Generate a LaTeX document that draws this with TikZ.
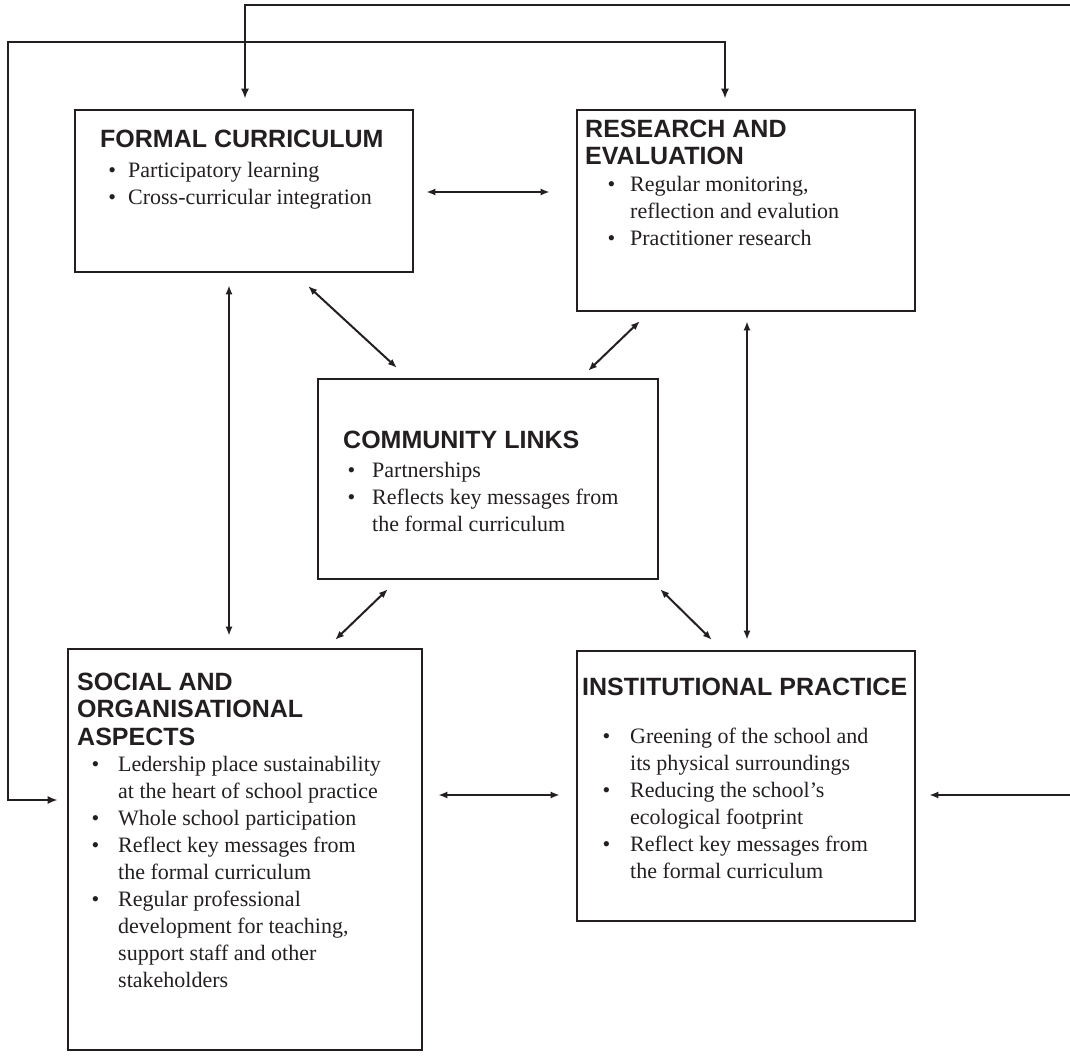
\documentclass[tikz,border=0pt]{standalone}
\usepackage{fontspec}
\setmainfont{Liberation Serif}
\newfontfamily\headfont{Liberation Sans}
\usetikzlibrary{arrows.meta}
\definecolor{ink}{HTML}{231F20}
% bullet hung to the left of the item text
\newcommand{\itembullet}[1]{\llap{\textbullet\hspace{#1pt}}}
\begin{document}
\begin{tikzpicture}[x=1pt,y=-1pt,
  box/.style={draw=ink, line width=2.6pt, rectangle, inner sep=0pt},
  head/.style={anchor=base west, inner sep=0pt, text=ink, font=\headfont\bfseries\fontsize{25}{27}\selectfont},
  body/.style={anchor=base west, inner sep=0pt, text=ink, font=\fontsize{22}{27}\selectfont},
  longlink/.style={draw=ink, line width=2.6pt},
  headtip/.style={-{Latex[length=10pt,width=8pt]}},
  bothtips/.style={{Latex[length=10pt,width=8pt]}-{Latex[length=10pt,width=8pt]}},
  dbl/.style={draw=ink, line width=2pt, {Latex[length=9pt,width=7pt]}-{Latex[length=9pt,width=7pt]}},
]
\useasboundingbox (0,0) rectangle (1070,1056);

% ---- boxes ----
\node[box, minimum width=338pt, minimum height=162pt] (fc) at (244,191) {};
\node[box, minimum width=338pt, minimum height=201pt] (re) at (746,210.5) {};
\node[box, minimum width=340pt, minimum height=200pt] (cl) at (488,479) {};
\node[box, minimum width=354pt, minimum height=401pt] (so) at (245,849.5) {};
\node[box, minimum width=338pt, minimum height=270pt] (ip) at (746,786) {};

% ---- formal curriculum ----
\node[head] (fc-h) at (100,148) {FORMAL CURRICULUM};
\node[body] (fc-1) at (128,178) {\itembullet{12}Participatory learning};
\node[body] (fc-2) at (128,205) {\itembullet{12}Cross-curricular integration};

% ---- research and evaluation ----
\node[head] (re-h1) at (585,138) {RESEARCH AND};
\node[head] (re-h2) at (585,165) {EVALUATION};
\node[body] (re-1) at (630,192) {\itembullet{15}Regular monitoring,};
\node[body] (re-2) at (630,219) {reflection and evalution};
\node[body] (re-3) at (630,246) {\itembullet{15}Practitioner research};

% ---- community links ----
\node[head] (cl-h) at (343,448) {COMMUNITY LINKS};
\node[body] (cl-1) at (372,477) {\itembullet{17}Partnerships};
\node[body] (cl-2) at (372,504) {\itembullet{17}Reflects key messages from};
\node[body] (cl-3) at (372,531) {the formal curriculum};

% ---- social and organisational aspects ----
\node[head] (so-h1) at (77,690) {SOCIAL AND};
\node[head] (so-h2) at (77,717.5) {ORGANISATIONAL};
\node[head] (so-h3) at (77,745) {ASPECTS};
\node[body] (so-1) at (118,771) {\itembullet{19}Ledership place sustainability};
\node[body] (so-2) at (118,798) {at the heart of school practice};
\node[body] (so-3) at (118,825) {\itembullet{19}Whole school participation};
\node[body] (so-4) at (118,852) {\itembullet{19}Reflect key messages from};
\node[body] (so-5) at (118,879) {the formal curriculum};
\node[body] (so-6) at (118,906) {\itembullet{19}Regular professional};
\node[body] (so-7) at (118,933) {development for teaching,};
\node[body] (so-8) at (118,960) {support staff and other};
\node[body] (so-9) at (118,987) {stakeholders};

% ---- institutional practice ----
\node[head] (ip-h) at (582,695) {INSTITUTIONAL PRACTICE};
\node[body] (ip-1) at (630,743) {\itembullet{20}Greening of the school and};
\node[body] (ip-2) at (630,770) {its physical surroundings};
\node[body] (ip-3) at (630,797) {\itembullet{20}Reducing the school’s};
\node[body] (ip-4) at (630,824) {ecological footprint};
\node[body] (ip-5) at (630,851) {\itembullet{20}Reflect key messages from};
\node[body] (ip-6) at (630,878) {the formal curriculum};

% ---- long feedback lines ----
\coordinate (edgeA) at (1070,5);
\coordinate (bendA) at (245,5);
\draw[longlink, headtip, shorten >=10pt] (edgeA) -- (bendA) -- (fc.north -| bendA);

\coordinate (bendB1) at (8,800);
\coordinate (bendB2) at (8,42);
\coordinate (bendB3) at (725,42);
\draw[longlink, bothtips, shorten <=9pt, shorten >=10pt]
  (so.west |- bendB1) -- (bendB1) -- (bendB2) -- (bendB3) -- (re.north -| bendB3);

\coordinate (edgeB) at (1070,795);
\draw[draw=ink, line width=2pt, -{Latex[length=9pt,width=7pt]}, shorten >=13pt] (edgeB) -- (ip.east |- edgeB);

% ---- links between boxes ----
\draw[dbl, shorten <=12pt, shorten >=26pt] (fc.east |- 0,192) -- (re.west |- 0,192);
\draw[dbl, shorten <=12pt, shorten >=12pt] (fc.south -| 229,0) -- (so.north -| 229,0);
\draw[dbl, shorten <=9pt, shorten >=10pt] (re.south -| 747,0) -- (ip.north -| 747,0);
\draw[dbl, shorten <=15pt, shorten >=16pt] (so.east |- 0,795) -- (ip.west |- 0,795);
\draw[dbl, shorten <=18.9pt, shorten >=14.6pt] (fc.south -| 294.2,0) -- (cl.north -| 407.6,0);
\draw[dbl, shorten <=12.7pt, shorten >=9.9pt] (re.south -| 649,0) -- (cl.north -| 581,0);
\draw[dbl, shorten <=12.7pt, shorten >=11.3pt] (cl.south -| 397,0) -- (so.north -| 327,0);
\draw[dbl, shorten <=12.6pt, shorten >=14pt] (cl.south -| 651.2,0) -- (ip.north -| 721.8,0);
\end{tikzpicture}
\end{document}
